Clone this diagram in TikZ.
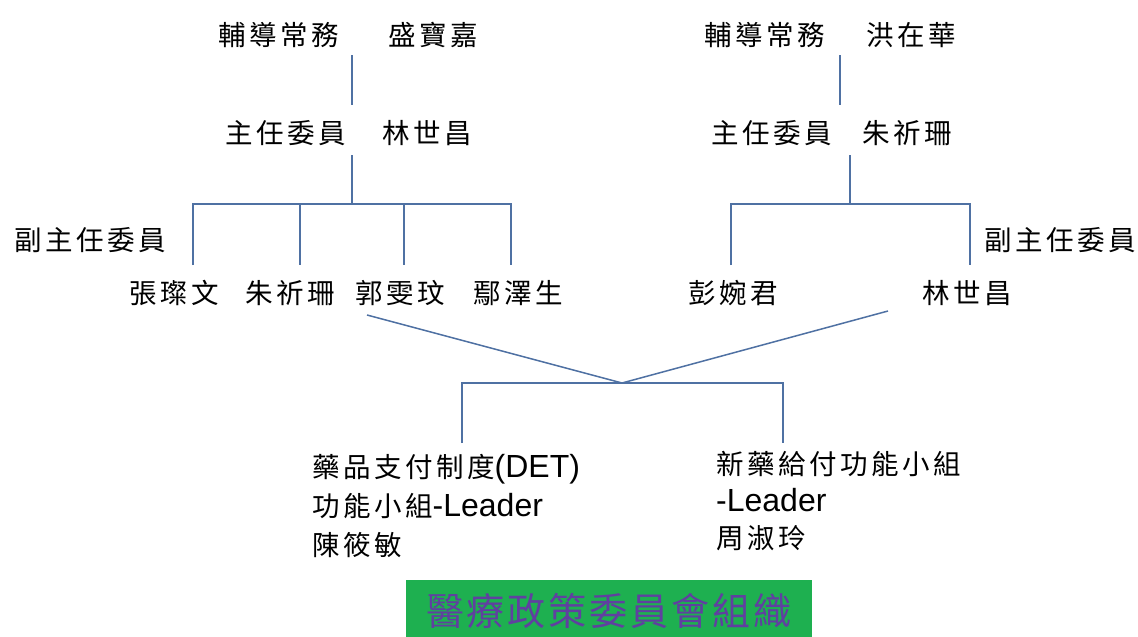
\documentclass[tikz,border=0pt]{standalone}
\usepackage{fontspec}
\setmainfont{Liberation Sans}
\newfontfamily\cjk{Noto Sans CJK TC}
\definecolor{linec}{RGB}{79,113,163}
\definecolor{titlegreen}{RGB}{30,176,80}
\definecolor{titletext}{RGB}{96,64,160}
\newcommand\gp{\kern3.5pt}
\newcommand\tg{\kern3pt}
\newcommand\lat[1]{{\rmfamily\fontsize{32}{38}\selectfont #1}}
\begin{document}
\begin{tikzpicture}[x=1pt,y=-1pt,
  lbl/.style={anchor=west,inner sep=0pt,font=\cjk\fontsize{27.5}{30}\selectfont},
  conn/.style={draw=linec,line width=1.5pt}]
\useasboundingbox[fill=white] (0,0) rectangle (1138,637);

% ---- left tree ----
\node[lbl] (hA) at (218,35) {輔\gp 導\gp 常\gp 務};
\node[lbl] (nA) at (388,35) {盛\gp 寶\gp 嘉};
\node[lbl] (cA) at (225,133) {主\gp 任\gp 委\gp 員};
\node[lbl] (mA) at (382,133) {林\gp 世\gp 昌};
\node[lbl] (vA) at (14,240) {副\gp 主\gp 任\gp 委\gp 員};
\node[lbl] (a1) at (129,293) {張\gp 璨\gp 文};
\node[lbl] (a2) at (245,293) {朱\gp 祈\gp 珊};
\node[lbl] (a3) at (355,293) {郭\gp 雯\gp 玟};
\node[lbl] (a4) at (473,293) {鄢\gp 澤\gp 生};

% ---- right tree ----
\node[lbl] (hB) at (704,35) {輔\gp 導\gp 常\gp 務};
\node[lbl] (nB) at (866,35) {洪\gp 在\gp 華};
\node[lbl] (cB) at (711,133) {主\gp 任\gp 委\gp 員};
\node[lbl] (mB) at (862,133) {朱\gp 祈\gp 珊};
\node[lbl] (vB) at (984,240) {副\gp 主\gp 任\gp 委\gp 員};
\node[lbl] (b1) at (688,293) {彭\gp 婉\gp 君};
\node[lbl] (b2) at (922,293) {林\gp 世\gp 昌};

% ---- bottom groups ----
\node[lbl] (d1) at (312,469) {藥\gp 品\gp 支\gp 付\gp 制\gp 度\lat{(DET)}};
\node[lbl] (d2) at (312,506) {功\gp 能\gp 小\gp 組\lat{-Leader}};
\node[lbl] (d3) at (312,545) {陳\gp 筱\gp 敏};
\node[lbl] (e1) at (716,464) {新\gp 藥\gp 給\gp 付\gp 功\gp 能\gp 小\gp 組};
\node[lbl] (e2) at (716,500) {\lat{-Leader}};
\node[lbl] (e3) at (716,538) {周\gp 淑\gp 玲};

\node[fill=titlegreen,minimum width=406pt,minimum height=62pt,anchor=north,
  inner sep=0pt,text=titletext,font=\cjk\fontsize{38}{40}\selectfont] (title) at (609,580)
  {醫\tg 療\tg 政\tg 策\tg 委\tg 員\tg 會\tg 組\tg 織};

% ---- connector points ----
\coordinate (pA1) at (352,55);  \coordinate (pA2) at (352,105);
\coordinate (pA3) at (352,155); \coordinate (jA)  at (352,204);
\coordinate (barAL) at (193,204); \coordinate (barAR) at (511,204);
\coordinate (qA1) at (193,265); \coordinate (qA2) at (300,265);
\coordinate (qA3) at (404,265); \coordinate (qA4) at (511,265);

\coordinate (pB1) at (840,55);  \coordinate (pB2) at (840,105);
\coordinate (pB3) at (850,155); \coordinate (jB)  at (850,204);
\coordinate (barBL) at (731,204); \coordinate (barBR) at (970,204);
\coordinate (qB1) at (731,265); \coordinate (qB2) at (970,265);

\coordinate (dgA) at (367,315); \coordinate (dgB) at (888,311);
\coordinate (meet) at (622,383);
\coordinate (barCL) at (462,383); \coordinate (barCR) at (783,383);
\coordinate (qC1) at (462,443); \coordinate (qC2) at (783,443);

% ---- connectors ----
\draw[conn] (pA1) -- (pA2);
\draw[conn] (pA3) -- (jA);
\draw[conn] (qA1) -- (barAL) -- (barAR) -- (qA4);
\draw[conn] (qA2 |- jA) -- (qA2);
\draw[conn] (qA3 |- jA) -- (qA3);

\draw[conn] (pB1) -- (pB2);
\draw[conn] (pB3) -- (jB);
\draw[conn] (qB1) -- (barBL) -- (barBR) -- (qB2);

\draw[conn] (dgA) -- (meet) -- (dgB);
\draw[conn] (qC1) -- (barCL) -- (barCR) -- (qC2);
\end{tikzpicture}
\end{document}
